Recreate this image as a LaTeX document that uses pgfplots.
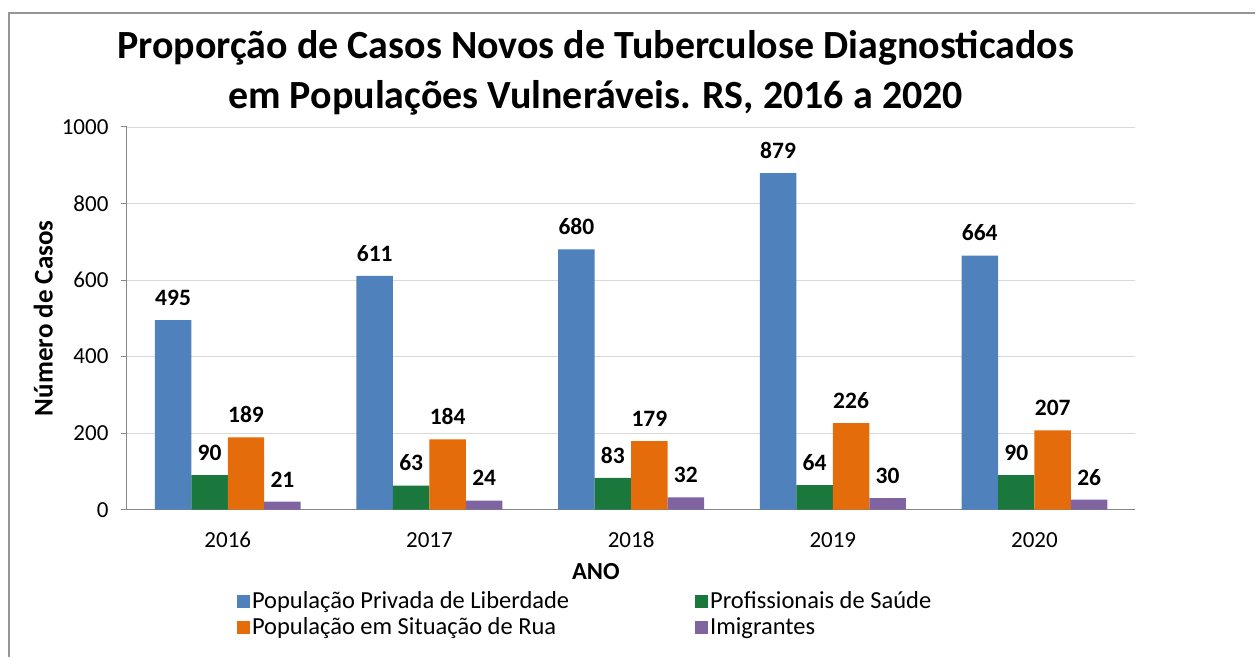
\documentclass[border=0pt]{standalone}
\usepackage{pgfplots}
\pgfplotsset{compat=1.18}
\usepackage{fontspec}
\setmainfont{Carlito}

\definecolor{cblue}{RGB}{79,129,189}
\definecolor{cgreen}{RGB}{26,120,60}
\definecolor{corange}{RGB}{228,108,10}
\definecolor{cpurple}{RGB}{128,100,162}
\definecolor{axgray}{RGB}{134,134,134}
\definecolor{gridgray}{RGB}{217,217,217}
\definecolor{framegray}{RGB}{150,150,150}

\begin{document}
\begin{tikzpicture}[x=1pt,y=1pt]
% page size and frame
\path (0,0) rectangle (1256,657);
\draw[framegray,line width=1.5pt] (9,0) -- (9,644) -- (1256,644);
\node[font=\fontsize{40}{50}\selectfont\bfseries,align=center] at (596,584)
  {Proporção de Casos Novos de Tuberculose Diagnosticados\\em Populações Vulneráveis. RS, 2016 a 2020};

\begin{axis}[
    at={(127pt,147pt)}, anchor=south west,
    scale only axis,
    width=1009pt, height=383pt,
    ybar=0pt, bar width=36.5pt,
    xmin=-0.5, xmax=4.5,
    ymin=0, ymax=1000,
    xtick={0,1,2,3,4},
    xticklabels={2016,2017,2018,2019,2020},
    major x tick style={draw=none},
    extra x ticks={-0.5,0.5,1.5,2.5,3.5,4.5},
    extra x tick labels={},
    extra x tick style={major tick length=16pt, tick style={draw=axgray,line width=1pt}, grid=none},
    ytick={0,200,400,600,800,1000},
    yticklabel style={/pgf/number format/1000 sep={}},
    axis x line=bottom, axis y line=left,
    axis line style={-, draw=axgray, line width=1pt},
    y tick style={draw=axgray, line width=1pt},
    tick align=outside, major tick length=6pt,
    ymajorgrids=true,
    grid style={draw=gridgray, line width=0.8pt},
    /pgf/number format/assume math mode=true,
    ticklabel style={font=\fontsize{23}{25}\selectfont},
    xticklabel style={yshift=-13pt},
    yticklabel style={xshift=-9pt},
    ylabel={Número de Casos},
    ylabel style={font=\fontsize{27}{29}\selectfont\bfseries, at={(axis description cs:-0.083,0.5)}, anchor=center, rotate=0},
    xlabel={ANO},
    xlabel style={font=\fontsize{24.5}{26}\selectfont\bfseries, at={(axis description cs:0.465,-0.162)}, anchor=center},
    nodes near coords,
    every node near coord/.append style={font=\fontsize{23.5}{25}\selectfont\bfseries, text=black, anchor=south, yshift=11pt},
    legend columns=2,
    legend style={at={(axis description cs:0.106,-0.272)}, anchor=west, draw=none, fill=none,
        font=\fontsize{24.5}{28}\selectfont, row sep=3pt,
        /tikz/every even column/.append style={column sep=124pt},
        nodes={inner sep=2pt}},
    legend cell align=left,
    legend image code/.code={\fill[#1,draw=none] (0pt,-7pt) rectangle (13pt,6pt);},
]
\addplot[fill=cblue, draw=none] coordinates {(0,495) (1,611) (2,680) (3,879) (4,664)};
\addplot[fill=cgreen, draw=none] coordinates {(0,90) (1,63) (2,83) (3,64) (4,90)};
\addplot[fill=corange, draw=none] coordinates {(0,189) (1,184) (2,179) (3,226) (4,207)};
\addplot[fill=cpurple, draw=none] coordinates {(0,21) (1,24) (2,32) (3,30) (4,26)};
\legend{População Privada de Liberdade, Profissionais de Saúde, População em Situação de Rua, Imigrantes}
\end{axis}
\end{tikzpicture}
\end{document}
